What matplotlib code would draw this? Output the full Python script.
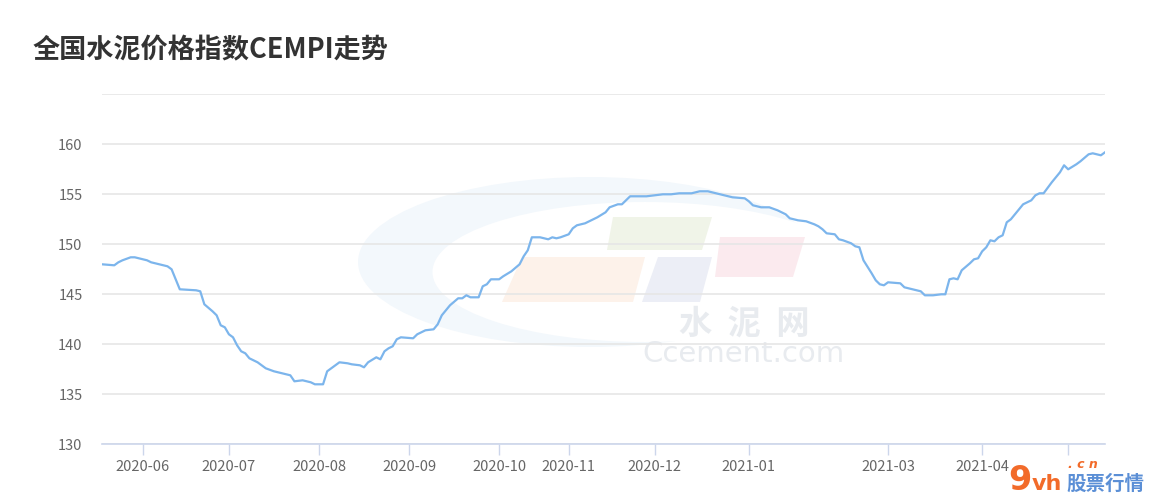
import matplotlib
matplotlib.use("Agg")
import matplotlib.pyplot as plt
from matplotlib.patches import Ellipse, Polygon

plt.rcParams['font.family'] = ['Noto Sans CJK SC', 'DejaVu Sans']

title = "全国水泥价格指数CEMPI走势"

# trading-day position of each reading and the CEMPI value there
day = [0, 3, 4, 5, 7, 8, 11, 12, 13, 15, 16, 17, 19, 23, 24, 25, 27, 28, 29, 30,
       31, 32, 33, 34, 35, 36, 38, 39, 40, 42, 43, 45, 46, 47, 49, 51, 52, 54, 55,
       57, 58, 60, 61, 63, 64, 65, 67, 68, 69, 70, 71, 72, 73, 76, 77, 78, 79, 81,
       82, 83, 85, 87, 88, 89, 90, 92, 93, 94, 95, 97, 98, 100, 102, 103, 104, 105,
       107, 109, 110, 111, 112, 114, 115, 116, 118, 119, 121, 123, 124, 126, 127,
       129, 131, 133, 135, 137, 139, 141, 144, 145, 146, 148, 150, 152, 154, 157,
       158, 159, 161, 163, 165, 167, 168, 170, 172, 174, 175, 176, 177, 179, 180,
       181, 183, 184, 185, 186, 188, 189, 190, 191, 192, 195, 196, 197, 199, 200,
       201, 203, 205, 206, 207, 208, 209, 210, 212, 213, 214, 215, 216, 217, 218,
       219, 220, 221, 222, 224, 225, 227, 228, 229, 230, 232, 234, 235, 236, 238,
       239, 241, 242, 244, 245]
cempi = [148.0, 147.9, 148.2, 148.4, 148.7, 148.7, 148.4, 148.2, 148.1, 147.9,
         147.8, 147.5, 145.5, 145.4, 145.3, 144.0, 143.3, 142.9, 141.9, 141.7,
         141.0, 140.7, 139.9, 139.3, 139.1, 138.6, 138.2, 137.9, 137.6, 137.3,
         137.2, 137.0, 136.9, 136.3, 136.4, 136.2, 136.0, 136.0, 137.3, 137.9,
         138.2, 138.1, 138.0, 137.9, 137.7, 138.2, 138.7, 138.5, 139.3, 139.6,
         139.8, 140.5, 140.7, 140.6, 141.0, 141.2, 141.4, 141.5, 142.0, 142.9,
         143.9, 144.6, 144.6, 144.9, 144.7, 144.7, 145.8, 146.0, 146.5, 146.5,
         146.8, 147.3, 148.0, 148.8, 149.4, 150.7, 150.7, 150.5, 150.7, 150.6,
         150.7, 151.0, 151.6, 151.9, 152.1, 152.3, 152.7, 153.2, 153.7, 154.0,
         154.0, 154.8, 154.8, 154.8, 154.9, 155.0, 155.0, 155.1, 155.1, 155.2,
         155.3, 155.3, 155.1, 154.9, 154.7, 154.6, 154.3, 153.9, 153.7, 153.7,
         153.4, 153.0, 152.6, 152.4, 152.3, 152.0, 151.8, 151.5, 151.1, 151.0,
         150.5, 150.4, 150.1, 149.8, 149.7, 148.4, 147.1, 146.4, 146.0, 145.9,
         146.2, 146.1, 145.7, 145.6, 145.4, 145.3, 144.9, 144.9, 145.0, 145.0,
         146.5, 146.6, 146.5, 147.4, 148.1, 148.5, 148.6, 149.3, 149.7, 150.4,
         150.3, 150.7, 150.9, 152.2, 152.5, 153.5, 154.0, 154.4, 154.9, 155.1,
         155.1, 156.2, 157.2, 157.9, 157.5, 158.0, 158.3, 159.0, 159.1, 158.9,
         159.2]

tick_days = [10, 31, 53, 75, 97, 114, 135, 158, 192, 215, 236]
tick_labels = ["2020-06", "2020-07", "2020-08", "2020-09", "2020-10", "2020-11",
               "2020-12", "2021-01", "2021-03", "2021-04", ""]
y_ticks = [130, 135, 140, 145, 150, 155, 160, 165]
y_labels = ["130", "135", "140", "145", "150", "155", "160", ""]

W, H = 1150, 504


def px(x, y):
    return (x / W, 1 - y / H)


fig = plt.figure(figsize=(11.5, 5.04), dpi=100)
fig.patch.set_facecolor("white")

# faint ccement.com watermark behind the plot
bg = "#f3f8fc"
fig.add_artist(Ellipse(px(590, 262), 464 / W, 170 / H, transform=fig.transFigure,
                       facecolor=bg, edgecolor="none", zorder=-3))
fig.add_artist(Ellipse(px(645, 272), 425 / W, 140 / H, transform=fig.transFigure,
                       facecolor="white", edgecolor="none", zorder=-2))
shapes = [
    ([(613, 217), (712, 217), (702, 250), (607, 250)], "#f0f4e8"),
    ([(522, 257), (645, 257), (633, 302), (502, 302)], "#fdf2ea"),
    ([(658, 257), (712, 257), (700, 302), (642, 302)], "#eceef6"),
    ([(720, 237), (805, 237), (793, 277), (715, 277)], "#fbeaee"),
]
for pts, c in shapes:
    fig.add_artist(Polygon([px(*p) for p in pts], closed=True, transform=fig.transFigure,
                           facecolor=c, edgecolor="none", zorder=-1))
fig.text(*px(744, 324), "水  泥  网", fontsize=24, color="#e8ebef", ha="center",
         va="center", fontweight="bold", zorder=-1)
fig.text(*px(744, 354), "Ccement.com", fontsize=21, color="#e8ebef", ha="center",
         va="center", family="DejaVu Sans", zorder=-1)

ax = fig.add_axes([102 / W, 1 - 444.3 / H, 1003 / W, 350 / H])
ax.set_facecolor("none")

ax.plot(day, cempi, color="#7cb5ec", lw=1.6, solid_joinstyle="round", zorder=3)

ax.set_xlim(0, 245)
ax.set_ylim(130, 165)
ax.set_yticks(y_ticks)
ax.set_yticklabels(y_labels)
ax.set_xticks(tick_days)
ax.set_xticklabels(tick_labels)
ax.grid(axis="y", color="#e6e6e6", lw=1.2)
ax.set_axisbelow(True)

for s in ["top", "right", "left"]:
    ax.spines[s].set_visible(False)
ax.spines["bottom"].set_color("#ccd6eb")
ax.spines["bottom"].set_linewidth(1.2)

ax.tick_params(axis="y", length=0, pad=14, labelsize=10.5, labelcolor="#666666")
ax.tick_params(axis="x", length=8, width=1, color="#ccd6eb", pad=3,
               labelsize=10.5, labelcolor="#666666")

fig.text(33 / W, 1 - 50 / H, title, fontsize=19.5, fontweight="bold",
         color="#333333", ha="left", va="center")

# site watermark in the lower right corner
fig.text(*px(1008, 480), "9", fontsize=24, fontweight="bold", color="#f26b2a",
         ha="left", va="center", family="DejaVu Sans")
fig.text(*px(1032, 484), "vh", fontsize=16, fontweight="bold", color="#f26b2a",
         ha="left", va="center", family="DejaVu Sans")
fig.text(*px(1068, 464), ". c n", fontsize=9, fontweight="bold", color="#f26b2a",
         ha="left", va="center", style="italic", family="DejaVu Sans")
fig.text(*px(1066, 484), "股票行情", fontsize=14, fontweight="bold", color="#5b8fd6",
         ha="left", va="center", style="italic")

fig.savefig("out.png", dpi=100)
